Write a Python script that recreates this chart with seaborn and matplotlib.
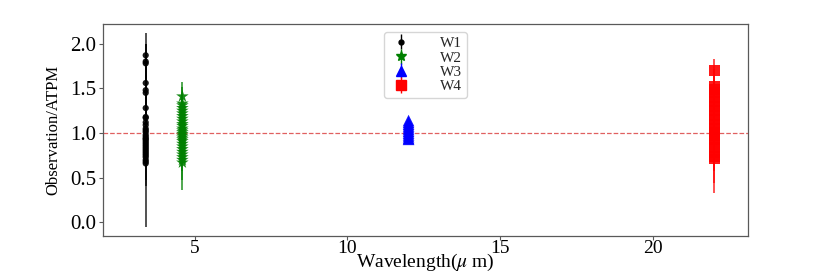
import numpy as np
import pandas as pd
import matplotlib
matplotlib.use("Agg")
import matplotlib.pyplot as plt
import seaborn as sns

# ---- data ----
bands = ["W1", "W2", "W3", "W4"]
wavelengths = [3.4, 4.6, 12.0, 22.0]

w1_ratio = [1.87, 1.80, 1.78, 1.56, 1.48, 1.45, 1.28, 1.18, 1.17, 1.12, 1.09, 1.05,
            1.03, 1.01, 0.98, 0.96, 0.94, 0.93, 0.91, 0.89, 0.87, 0.85, 0.83, 0.81,
            0.79, 0.77, 0.75, 0.73, 0.70, 0.68, 0.66]
w1_err = [0.25, 0.20, 0.22, 0.18, 0.15, 0.20, 0.12, 0.15, 0.10, 0.12, 0.10, 0.08,
          0.10, 0.12, 0.09, 0.10, 0.11, 0.08, 0.10, 0.12, 0.09, 0.10, 0.14, 0.12,
          0.10, 0.15, 0.12, 0.10, 0.75, 0.20, 0.25]

w2_ratio = [1.41, 1.33, 1.31, 1.28, 1.25, 1.22, 1.19, 1.16, 1.13, 1.10, 1.08, 1.05,
            1.03, 1.01, 0.99, 0.97, 0.95, 0.93, 0.91, 0.88, 0.85, 0.82, 0.79, 0.76,
            0.73, 0.70, 0.67]
w2_err = [0.10, 0.24, 0.12, 0.10, 0.08, 0.10, 0.12, 0.08, 0.10, 0.09, 0.10, 0.08,
          0.10, 0.09, 0.08, 0.10, 0.09, 0.08, 0.10, 0.12, 0.10, 0.09, 0.10, 0.12,
          0.15, 0.34, 0.20]

w3_ratio = [1.14, 1.12, 1.10, 1.08, 1.06, 1.04, 1.02, 1.00, 0.98, 0.96, 0.94, 0.93]
w3_err = [0.01, 0.02, 0.02, 0.01, 0.02, 0.02, 0.01, 0.02, 0.02, 0.03, 0.02, 0.05]

w4_ratio = [1.70, 1.52, 1.49, 1.45, 1.40, 1.35, 1.30, 1.25, 1.20, 1.15, 1.10, 1.05,
            1.01, 0.97, 0.93, 0.90, 0.84, 0.78, 0.74, 0.71]
w4_err = [0.13, 0.20, 0.15, 0.12, 0.15, 0.10, 0.12, 0.10, 0.15, 0.12, 0.10, 0.15,
          0.12, 0.15, 0.10, 0.12, 0.15, 0.20, 0.30, 0.38]

colors = ["black", "green", "blue", "red"]
markers = ["o", "*", "^", "s"]
legend_msizes = [3.5, 7, 7, 7]

ratios = [w1_ratio, w2_ratio, w3_ratio, w4_ratio]
errs = [w1_err, w2_err, w3_err, w4_err]

rows = []
for b, wl, r, e in zip(bands, wavelengths, ratios, errs):
    for v, ev in zip(r, e):
        rows.append({"band": b, "wavelength": wl, "ratio": v, "err": ev})
df = pd.DataFrame(rows)

# ---- style ----
sns.set_theme(style="ticks")
plt.rcParams["font.family"] = ["Liberation Serif", "DejaVu Serif"]
plt.rcParams["mathtext.fontset"] = "stix"
plt.rcParams["axes.edgecolor"] = "0.35"
plt.rcParams["xtick.color"] = "0.35"
plt.rcParams["ytick.color"] = "0.35"

fig = plt.figure(figsize=(8.30, 2.73), dpi=100)
ax = fig.add_axes([0.124, 0.136, 0.777, 0.776])

handles = []
for b, c, m, ms in zip(bands, colors, markers, legend_msizes):
    sub = df[df["band"] == b]
    ax.errorbar(sub["wavelength"], sub["ratio"], yerr=sub["err"], fmt="none",
                ecolor=c, elinewidth=1.2, alpha=0.8, zorder=2)
    h = ax.errorbar([np.nan], [np.nan], yerr=[np.nan], fmt=m, color=c, ms=ms,
                    elinewidth=1.0, label=b)
    handles.append(h)

sns.scatterplot(data=df, x="wavelength", y="ratio", hue="band", style="band",
                palette=dict(zip(bands, colors)), markers=dict(zip(bands, markers)),
                size="band", sizes=dict(zip(bands, [20, 90, 70, 60])),
                edgecolor="none", alpha=0.9, legend=False, ax=ax, zorder=3)

ax.axhline(1.0, color="#e06060", ls="--", lw=0.9, zorder=1)

ax.set_xlim(2.0, 23.1)
ax.set_ylim(-0.15, 2.22)
ax.set_xticks([5, 10, 15, 20])
ax.set_yticks([0.0, 0.5, 1.0, 1.5, 2.0])
ax.set_yticklabels(["0.0", "0.5", "1.0", "1.5", "2.0"])
ax.tick_params(labelsize=15, length=3, width=0.8, pad=2)
ax.tick_params(axis="x", labelsize=14, pad=0)
for lab in ax.get_xticklabels() + ax.get_yticklabels():
    lab.set_color("black")

ax.set_xlabel(r"Wavelength($\mu$ m)", fontsize=14, color="black")
ax.xaxis.set_label_coords(0.5, -0.075)
ax.xaxis.label.set_va("top")
ax.set_ylabel("Observation/ATPM", fontsize=12, color="black", labelpad=6)

ax.legend(handles=handles, labels=bands, loc="upper center",
          bbox_to_anchor=(0.5, 0.985), fontsize=11, frameon=True,
          handletextpad=1.8, borderpad=0.3, labelspacing=0.05,
          handlelength=1.6, borderaxespad=0.3)

for s in ax.spines.values():
    s.set_linewidth(0.9)

fig.savefig("out.png", dpi=100)
